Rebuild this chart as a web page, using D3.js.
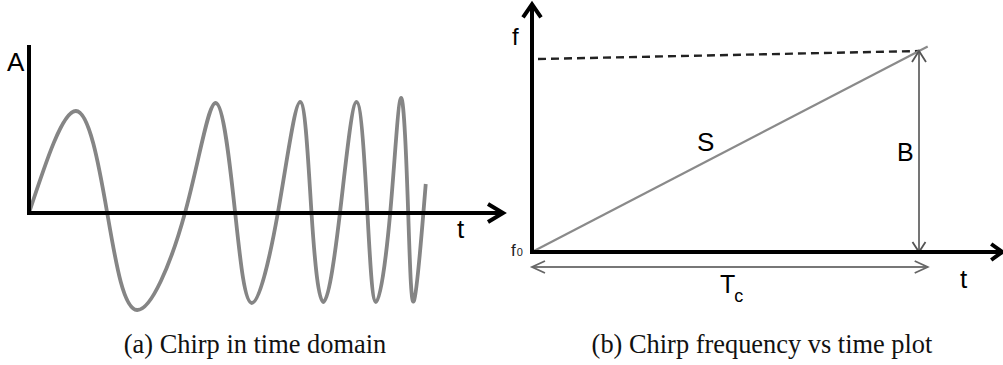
<!DOCTYPE html>
<html>
<head>
<meta charset="utf-8">
<script src="https://cdn.jsdelivr.net/npm/d3@7"></script>
<style>
  body { margin: 0; background: #fff; }
  svg { display: block; }
</style>
</head>
<body>
<script>
// ---- (a) chirp in time domain: turning points and zero crossings ----
const chirpT = [0, 0.99, 1.65, 2.28, 3.29, 3.94, 4.35, 4.70, 5.25, 5.72, 5.96, 6.21,
                6.56, 6.91, 7.14, 7.32, 7.62, 7.85, 8.00, 8.12, 8.32, 8.37];
const chirpA = [0, 1.02, 0, -0.97, 0, 1.10, 0, -0.90, 0, 1.11, 0, -0.89,
                0, 1.11, 0, -0.89, 0, 1.15, 0, -0.88, 0, 0.29];
const timeAxisEnd = 10;     // arrow tip of the t axis
const ampAxisTop = 1.68;    // top of the A axis

// ---- (b) chirp frequency vs time ----
const f0 = 77;              // start frequency
const B = 4;                // bandwidth
const Tc = 40;              // chirp duration
const rampEnd = 40.9;       // ramp line and Tc arrow run slightly past Tc
const dashF = [f0 + 3.84, f0 + B];   // dashed level, left and right ends
const freqAxisTop = f0 + 4.93;
const timeAxisEndB = 48.6;

const captions = ["(a) Chirp in time domain", "(b) Chirp frequency vs time plot"];

const W = 1003, H = 365;
const svg = d3.select("body").append("svg").attr("width", W).attr("height", H);

const sans = "'Liberation Sans', Arial, sans-serif";
const serif = "'Liberation Serif', 'Times New Roman', serif";

// open chevron arrow head, tip at (x,y), pointing along angle a
function chevron(x, y, a, back, half) {
  const dx = Math.cos(a), dy = Math.sin(a);
  const px = -dy, py = dx;
  const bx = x - back * dx, by = y - back * dy;
  return `M${bx + half * px},${by + half * py}L${x},${y}L${bx - half * px},${by - half * py}`;
}

// ================= panel (a) =================
const xA = d3.scaleLinear().domain([0, timeAxisEnd]).range([29, 503]);
const yA = d3.scaleLinear().domain([0, 1]).range([213, 113]);

const gA = svg.append("g");

const chirp = chirpT.map((t, i) => [t, chirpA[i]]);
gA.append("path")
  .datum(chirp)
  .attr("fill", "none")
  .attr("stroke", "#858585")
  .attr("stroke-width", 3.8)
  .attr("stroke-linecap", "butt")
  .attr("d", d3.line().x(d => xA(d[0])).y(d => yA(d[1])).curve(d3.curveNatural));

// axes
gA.append("line")
  .attr("x1", xA(0)).attr("x2", xA(0))
  .attr("y1", yA(ampAxisTop)).attr("y2", yA(0) + 2)
  .attr("stroke", "#000").attr("stroke-width", 4);
gA.append("line")
  .attr("x1", xA(0) - 2).attr("x2", xA(timeAxisEnd) - 1)
  .attr("y1", yA(0)).attr("y2", yA(0))
  .attr("stroke", "#000").attr("stroke-width", 4);
gA.append("path")
  .attr("d", chevron(xA(timeAxisEnd), yA(0), 0, 15, 9))
  .attr("fill", "none").attr("stroke", "#000").attr("stroke-width", 4)
  .attr("stroke-linejoin", "miter");

gA.append("text").attr("x", 7).attr("y", 71)
  .attr("font-family", sans).attr("font-size", 26).text("A");
gA.append("text").attr("x", 457).attr("y", 238)
  .attr("font-family", sans).attr("font-size", 26).text("t");

// ================= panel (b) =================
const xB = d3.scaleLinear().domain([0, Tc]).range([532, 919]);
const yB = d3.scaleLinear().domain([f0, f0 + B]).range([252, 51]);

const gB = svg.append("g");

// dashed top level
gB.append("line")
  .attr("x1", xB(0) + 6).attr("x2", xB(Tc))
  .attr("y1", yB(dashF[0])).attr("y2", yB(dashF[1]))
  .attr("stroke", "#222").attr("stroke-width", 2.4)
  .attr("stroke-dasharray", "8,5");

// frequency ramp S
gB.append("line")
  .attr("x1", xB(0)).attr("y1", yB(f0))
  .attr("x2", xB(rampEnd)).attr("y2", yB(f0 + B * rampEnd / Tc))
  .attr("stroke", "#8a8a8a").attr("stroke-width", 2.2);

// bandwidth double arrow B
gB.append("line")
  .attr("x1", xB(Tc)).attr("x2", xB(Tc))
  .attr("y1", yB(f0 + B)).attr("y2", yB(f0))
  .attr("stroke", "#666").attr("stroke-width", 1.8);
gB.append("path")
  .attr("d", chevron(xB(Tc), yB(f0 + B), -Math.PI / 2, 11, 7) + chevron(xB(Tc), yB(f0), Math.PI / 2, 10, 6.5))
  .attr("fill", "none").attr("stroke", "#555").attr("stroke-width", 1.8);

// duration double arrow Tc
const tcY = yB(f0) + 15;
gB.append("line")
  .attr("x1", xB(0)).attr("x2", xB(rampEnd))
  .attr("y1", tcY).attr("y2", tcY)
  .attr("stroke", "#777").attr("stroke-width", 1.8);
gB.append("path")
  .attr("d", chevron(xB(0), tcY, Math.PI, 13, 6) + chevron(xB(rampEnd), tcY, 0, 13, 6))
  .attr("fill", "none").attr("stroke", "#666").attr("stroke-width", 1.8);

// axes
gB.append("line")
  .attr("x1", xB(0)).attr("x2", xB(0))
  .attr("y1", yB(freqAxisTop) + 1).attr("y2", yB(f0) + 2)
  .attr("stroke", "#000").attr("stroke-width", 4);
gB.append("path")
  .attr("d", chevron(xB(0), yB(freqAxisTop), -Math.PI / 2, 13, 9))
  .attr("fill", "none").attr("stroke", "#000").attr("stroke-width", 4);
gB.append("line")
  .attr("x1", xB(0) - 2).attr("x2", xB(timeAxisEndB) - 1)
  .attr("y1", yB(f0)).attr("y2", yB(f0))
  .attr("stroke", "#000").attr("stroke-width", 4);
gB.append("path")
  .attr("d", chevron(xB(timeAxisEndB), yB(f0), 0, 11, 8))
  .attr("fill", "none").attr("stroke", "#000").attr("stroke-width", 4);

// labels
gB.append("text").attr("x", 512).attr("y", 45)
  .attr("font-family", sans).attr("font-size", 24).text("f");
const f0Label = gB.append("text").attr("x", 511).attr("y", 256)
  .attr("font-family", sans).attr("font-size", 17).attr("fill", "#222");
f0Label.append("tspan").text("f");
f0Label.append("tspan").attr("font-size", 11).attr("dx", 1).text("0");

gB.append("text").attr("x", 697).attr("y", 151)
  .attr("font-family", sans).attr("font-size", 26).text("S");
gB.append("text").attr("x", 897).attr("y", 161)
  .attr("font-family", sans).attr("font-size", 25).text("B");
const tcLabel = gB.append("text").attr("x", 720).attr("y", 293)
  .attr("font-family", sans).attr("font-size", 25);
tcLabel.append("tspan").text("T");
tcLabel.append("tspan").attr("font-size", 18).attr("dx", -1).attr("dy", 9).text("c");
gB.append("text").attr("x", 960).attr("y", 288)
  .attr("font-family", sans).attr("font-size", 26).text("t");

// captions
svg.selectAll("text.caption")
  .data(captions)
  .join("text")
  .attr("class", "caption")
  .attr("x", (d, i) => [255, 762][i])
  .attr("y", 353)
  .attr("text-anchor", "middle")
  .attr("font-family", serif)
  .attr("font-size", 26.4)
  .attr("fill", "#111")
  .text(d => d);
</script>
</body>
</html>
